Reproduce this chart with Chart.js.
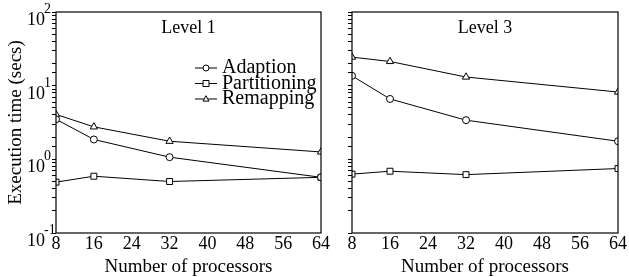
<!DOCTYPE html>
<html>
<head>
<meta charset="utf-8">
<script src="https://cdn.jsdelivr.net/npm/chart.js@4.4.0/dist/chart.umd.min.js"></script>
<style>
body { margin: 0; background: #fff; width: 629px; height: 277px; overflow: hidden; position: relative; }
canvas { position: absolute; top: 0; }
#left { left: 0; }
#right { left: 320px; }
</style>
</head>
<body>
<canvas id="left" width="345" height="277"></canvas>
<canvas id="right" width="309" height="277"></canvas>
<script>
var processors = [8, 16, 32, 64];
var yPowers = [-1, 0, 1, 2];
var seriesNames = ['Adaption', 'Partitioning', 'Remapping'];
var markerStyles = ['circle', 'rect', 'triangle'];

// Level 1
var level1Adaption = [3.5, 1.86, 1.07, 0.57];
var level1Partitioning = [0.49, 0.59, 0.50, 0.57];
var level1Remapping = [4.07, 2.76, 1.76, 1.26];

// Level 3
var level3Adaption = [13.6, 6.6, 3.4, 1.76];
var level3Partitioning = [0.63, 0.69, 0.62, 0.75];
var level3Remapping = [24.4, 21.3, 13.1, 8.2];

var FONT = '"Liberation Serif", "Times New Roman", serif';

function makeDatasets(values) {
  var sets = [];
  for (let i = 0; i < values.length; i++) {
    sets.push({
      label: seriesNames[i],
      data: processors.map((p, j) => ({ x: p, y: values[i][j] })),
      borderColor: '#000',
      borderWidth: 1,
      backgroundColor: '#fff',
      pointStyle: markerStyles[i],
      pointRadius: i == 0 ? 3.5 : 4.2,
      pointBorderWidth: 1,
      pointBorderColor: '#000',
      pointBackgroundColor: '#fff',
      tension: 0
    });
  }
  return sets;
}

function drawMarker(ctx, style, x, y, r) {
  ctx.beginPath();
  if (style == 'circle') {
    ctx.arc(x, y, r, 0, Math.PI * 2);
  } else if (style == 'rect') {
    ctx.rect(x - r, y - r, 2 * r, 2 * r);
  } else {
    ctx.moveTo(x, y - r * 1.1);
    ctx.lineTo(x + r, y + r * 0.7);
    ctx.lineTo(x - r, y + r * 0.7);
    ctx.closePath();
  }
  ctx.fillStyle = '#fff';
  ctx.fill();
  ctx.stroke();
}

function panelPlugin(title, showYLabels, showLegend) {
  return {
    id: 'panel',
    afterDraw(chart) {
      var ctx = chart.ctx;
      var a = chart.chartArea;
      var ys = chart.scales.y;
      ctx.save();
      ctx.strokeStyle = '#000';
      ctx.lineWidth = 1.2;
      ctx.strokeRect(a.left, a.top, a.right - a.left, a.bottom - a.top);

      ctx.fillStyle = '#000';
      ctx.font = '18px ' + FONT;
      ctx.textAlign = 'center';
      ctx.textBaseline = 'alphabetic';
      ctx.fillText(title, (a.left + a.right) / 2, a.top + 21);

      // x axis title
      ctx.font = '19px ' + FONT;
      ctx.fillText('Number of processors', (a.left + a.right) / 2, 272);

      if (showYLabels) {
        yPowers.forEach(p => {
          var py = ys.getPixelForValue(Math.pow(10, p));
          ctx.font = '18px ' + FONT;
          ctx.textAlign = 'right';
          ctx.fillText('10', a.left - 11, py + 13);
          ctx.font = '14px ' + FONT;
          ctx.textAlign = 'left';
          ctx.fillText(String(p), a.left - 12, py + 1);
        });
        ctx.save();
        ctx.translate(16, (a.top + a.bottom) / 2);
        ctx.rotate(-Math.PI / 2);
        ctx.textAlign = 'center';
        ctx.textBaseline = 'middle';
        ctx.font = '19px ' + FONT;
        ctx.fillText('Execution time (secs)', 0, 0);
        ctx.restore();
      }

      if (showLegend) {
        ctx.lineWidth = 1;
        ctx.font = '20px ' + FONT;
        ctx.textAlign = 'left';
        ctx.textBaseline = 'middle';
        for (let i = 0; i < seriesNames.length; i++) {
          var ly = 68 + i * 15.5;
          ctx.beginPath();
          ctx.moveTo(195, ly);
          ctx.lineTo(217, ly);
          ctx.stroke();
          drawMarker(ctx, markerStyles[i], 206, ly, 3);
          ctx.fillStyle = '#000';
          ctx.fillText(seriesNames[i], 222, ly);
        }
      }
      ctx.restore();
    }
  };
}

function createPanel(id, values, title, yWidth, rightPad, showYLabels, showLegend) {
  var ctx = document.getElementById(id).getContext('2d');
  return new Chart(ctx, {
    type: 'line',
    data: { datasets: makeDatasets(values) },
    options: {
      responsive: false,
      animation: false,
      devicePixelRatio: 1,
      layout: { padding: { top: 12, right: rightPad, left: 0, bottom: 0 } },
      plugins: { legend: { display: false }, tooltip: { enabled: false } },
      scales: {
        x: {
          type: 'linear',
          min: 8,
          max: 64,
          afterFit: s => { s.height = 44; },
          ticks: { stepSize: 8, color: '#000', font: { family: FONT, size: 18 }, padding: 0, maxRotation: 0 },
          grid: { display: false, drawTicks: false },
          border: { display: false }
        },
        y: {
          type: 'logarithmic',
          min: 0.1,
          max: 100,
          afterFit: s => { s.width = yWidth; },
          ticks: { display: false, autoSkip: false },
          grid: { drawOnChartArea: false, drawTicks: true, tickLength: 4, color: '#000' },
          border: { display: false }
        }
      }
    },
    plugins: [panelPlugin(title, showYLabels, showLegend)]
  });
}

createPanel('left', [level1Adaption, level1Partitioning, level1Remapping], 'Level 1', 56, 24, true, true);
createPanel('right', [level3Adaption, level3Partitioning, level3Remapping], 'Level 3', 32, 11, false, false);
</script>
</body>
</html>
